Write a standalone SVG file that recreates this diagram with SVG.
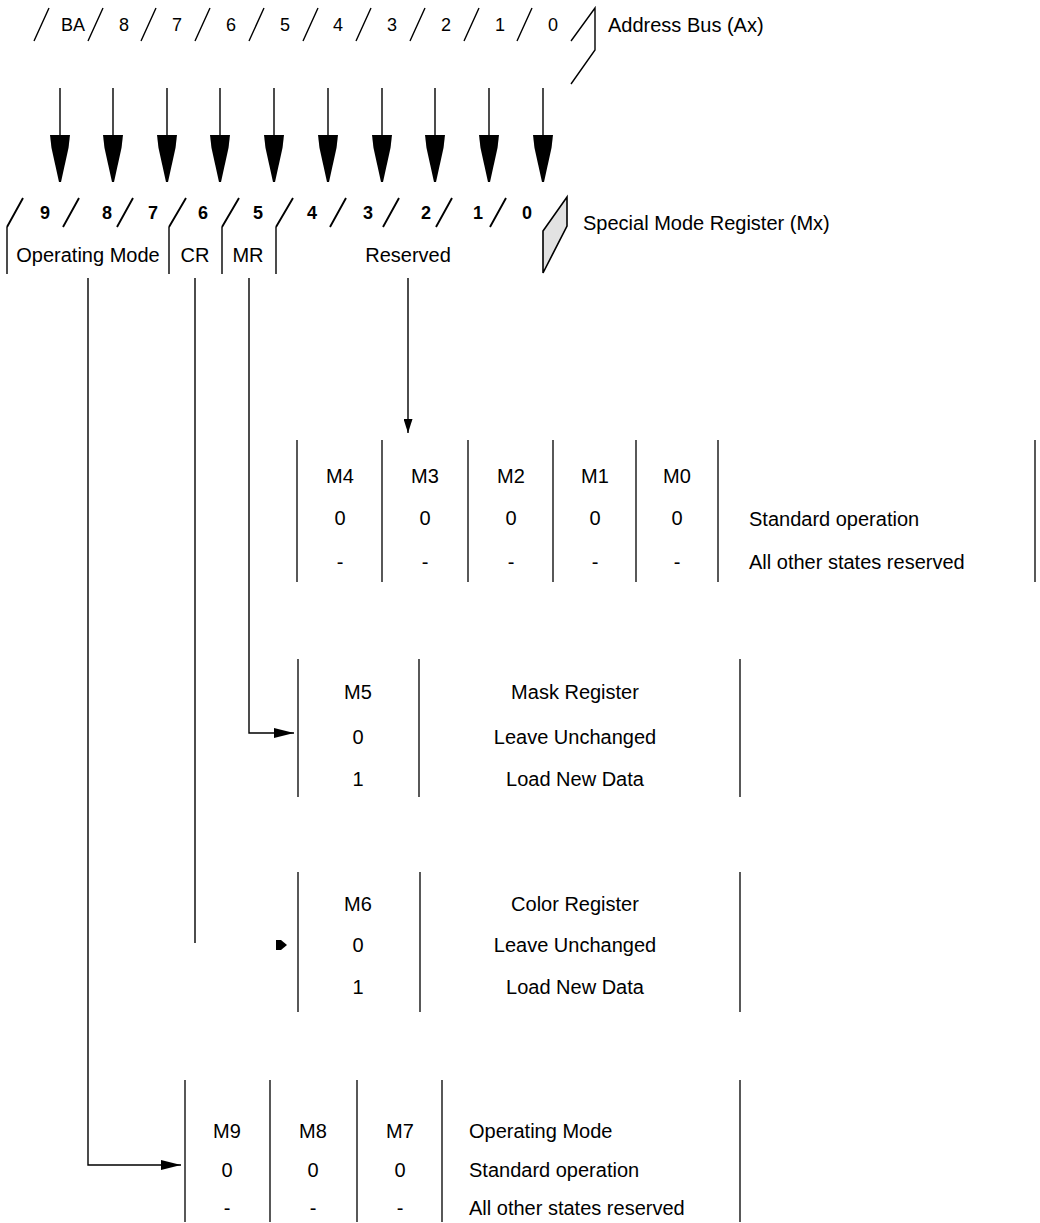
<svg xmlns="http://www.w3.org/2000/svg" width="1040" height="1223" viewBox="0 0 1040 1223">
<style>
.t{font-family:"Liberation Sans",Arial,Helvetica,sans-serif;font-size:20px;fill:#000}
.c{text-anchor:middle}
.d{font-size:18px}
.b{font-weight:bold;font-size:18px}
.ln{stroke:#000;stroke-width:1.4;fill:none}
.rs{stroke:#000;stroke-width:1.9;fill:none}
.tb{stroke:#000;stroke-width:1.3;fill:none}
.ah{fill:#000;stroke:none}
</style>
<defs>
<marker id="arr" markerUnits="userSpaceOnUse" markerWidth="20" markerHeight="10" refX="20" refY="5" orient="auto">
<path d="M0,0 L20,5 L0,10 Z" fill="#000"/>
</marker>
<marker id="arrs" markerUnits="userSpaceOnUse" markerWidth="14" markerHeight="9" refX="14" refY="4.5" orient="auto">
<path d="M0,0 L14,4.5 L0,9 Z" fill="#000"/>
</marker>
<path id="bigHead" d="M-10,0 L10,0 L8.5,13 L1,47 L-1,47 L-8.5,13 Z"/>
</defs>

<g id="address-bus">
<path class="ln" d="M34,41 L49,8 M88,41 L103,8 M141,41 L156,8 M195,41 L210,8 M249,41 L264,8 M303,41 L318,8 M356,41 L371,8 M410,41 L425,8 M464,41 L479,8 M517,41 L532,8 M571,41 L595,8 L595,50 L571,84"/>
<text class="t c d" x="73" y="31">BA</text>
<text class="t c d" x="124" y="31">8</text>
<text class="t c d" x="177" y="31">7</text>
<text class="t c d" x="231" y="31">6</text>
<text class="t c d" x="285" y="31">5</text>
<text class="t c d" x="338" y="31">4</text>
<text class="t c d" x="392" y="31">3</text>
<text class="t c d" x="446" y="31">2</text>
<text class="t c d" x="500" y="31">1</text>
<text class="t c d" x="553" y="31">0</text>
<text class="t" x="608" y="32">Address Bus (Ax)</text>
</g>

<g id="special-mode-register">
<path class="ln" d="M7,274 L7,227 M169,274 L169,227 M222,274 L222,227 M276,274 L276,227"/>
<path class="rs" d="M7,227 L23,198 M63,227 L79,198 M117,227 L133,198 M169,227 L186,198 M222,227 L239,198 M276,227 L293,198 M330,227 L346,198 M383,227 L399,198 M436,227 L452,198 M490,227 L506,198"/>
<path d="M543,231 L567,197 L567,226 L543,273 Z" fill="#e2e2e2" stroke="#000" stroke-width="1.6"/>
<text class="t c b" x="45" y="219">9</text>
<text class="t c b" x="107" y="219">8</text>
<text class="t c b" x="153" y="219">7</text>
<text class="t c b" x="203" y="219">6</text>
<text class="t c b" x="258" y="219">5</text>
<text class="t c b" x="312" y="219">4</text>
<text class="t c b" x="368" y="219">3</text>
<text class="t c b" x="426" y="219">2</text>
<text class="t c b" x="478" y="219">1</text>
<text class="t c b" x="527" y="219">0</text>
<text class="t c" x="88" y="262">Operating Mode</text>
<text class="t c" x="195" y="262">CR</text>
<text class="t c" x="248" y="262">MR</text>
<text class="t c" x="408" y="262">Reserved</text>
<text class="t" x="583" y="230">Special Mode Register (Mx)</text>
</g>

<g id="table-reserved">
<path class="tb" d="M297,440 V582 M382,440 V582 M468,440 V582 M553,440 V582 M636,440 V582 M718,440 V582 M1035,440 V582"/>
<text class="t c" x="340" y="483">M4</text>
<text class="t c" x="425" y="483">M3</text>
<text class="t c" x="511" y="483">M2</text>
<text class="t c" x="595" y="483">M1</text>
<text class="t c" x="677" y="483">M0</text>
<text class="t c" x="340" y="525">0</text>
<text class="t c" x="425" y="525">0</text>
<text class="t c" x="511" y="525">0</text>
<text class="t c" x="595" y="525">0</text>
<text class="t c" x="677" y="525">0</text>
<text class="t c" x="340" y="569">-</text>
<text class="t c" x="425" y="569">-</text>
<text class="t c" x="511" y="569">-</text>
<text class="t c" x="595" y="569">-</text>
<text class="t c" x="677" y="569">-</text>
<text class="t" x="749" y="526">Standard operation</text>
<text class="t" x="749" y="569">All other states reserved</text>
</g>

<g id="table-mask">
<path class="tb" d="M298,659 V797 M419,659 V797 M740,659 V797"/>
<text class="t c" x="358" y="699">M5</text>
<text class="t c" x="358" y="744">0</text>
<text class="t c" x="358" y="786">1</text>
<text class="t c" x="575" y="699">Mask Register</text>
<text class="t c" x="575" y="744">Leave Unchanged</text>
<text class="t c" x="575" y="786">Load New Data</text>
</g>

<g id="table-color">
<path class="tb" d="M298,872 V1012 M420,872 V1012 M740,872 V1012"/>
<text class="t c" x="358" y="911">M6</text>
<text class="t c" x="358" y="952">0</text>
<text class="t c" x="358" y="994">1</text>
<text class="t c" x="575" y="911">Color Register</text>
<text class="t c" x="575" y="952">Leave Unchanged</text>
<text class="t c" x="575" y="994">Load New Data</text>
</g>

<g id="table-operating-mode">
<path class="tb" d="M185,1080 V1222 M270,1080 V1222 M357,1080 V1222 M442,1080 V1222 M740,1080 V1222"/>
<text class="t c" x="227" y="1138">M9</text>
<text class="t c" x="313" y="1138">M8</text>
<text class="t c" x="400" y="1138">M7</text>
<text class="t c" x="227" y="1177">0</text>
<text class="t c" x="313" y="1177">0</text>
<text class="t c" x="400" y="1177">0</text>
<text class="t c" x="227" y="1215">-</text>
<text class="t c" x="313" y="1215">-</text>
<text class="t c" x="400" y="1215">-</text>
<text class="t" x="469" y="1138">Operating Mode</text>
<text class="t" x="469" y="1177">Standard operation</text>
<text class="t" x="469" y="1215">All other states reserved</text>
</g>

<g id="connectors">
<path class="ln" d="M60,88 V136 M113,88 V136 M167,88 V136 M220,88 V136 M274,88 V136 M328,88 V136 M382,88 V136 M435,88 V136 M489,88 V136 M543,88 V136"/>
<use href="#bigHead" x="60" y="135"/>
<use href="#bigHead" x="113" y="135"/>
<use href="#bigHead" x="167" y="135"/>
<use href="#bigHead" x="220" y="135"/>
<use href="#bigHead" x="274" y="135"/>
<use href="#bigHead" x="328" y="135"/>
<use href="#bigHead" x="382" y="135"/>
<use href="#bigHead" x="435" y="135"/>
<use href="#bigHead" x="489" y="135"/>
<use href="#bigHead" x="543" y="135"/>
<path class="ln" d="M408,278 V433" marker-end="url(#arrs)"/>
<path class="ln" d="M249,278 V733 H294" marker-end="url(#arr)"/>
<path class="ln" d="M195,278 V943"/>
<path class="ah" d="M276,940 L281,940 L287,945 L281,950 L276,950 Z"/>
<path class="ln" d="M88,278 V1165 H181" marker-end="url(#arr)"/>
</g>
</svg>
